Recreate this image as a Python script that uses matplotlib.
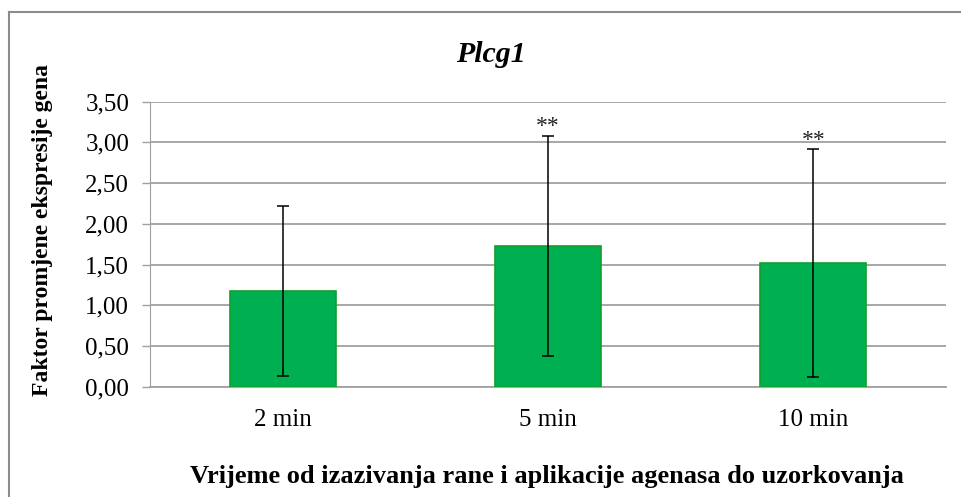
import numpy as np
import matplotlib.pyplot as plt
from matplotlib.lines import Line2D

# data
categories = ['2 min', '5 min', '10 min']
values = [1.175, 1.73, 1.515]
errors = [1.04, 1.35, 1.40]
marks = ['', '**', '**']
yticks = [0.0, 0.5, 1.0, 1.5, 2.0, 2.5, 3.0, 3.5]

plt.rcParams['font.family'] = ['Liberation Serif', 'DejaVu Serif']

fig = plt.figure(figsize=(9.62, 4.97), dpi=100)
ax = fig.add_axes([150 / 962, 1 - 386.7 / 497, 796 / 962, 285 / 497])

x = np.arange(len(categories))
ax.bar(x, values, width=0.4, color='#00AF4F', edgecolor='#12A030', linewidth=1.2, zorder=3)
ax.errorbar(x, values, yerr=errors, fmt='none', ecolor='black', elinewidth=1.1,
            capsize=4.2, capthick=1.1, zorder=4)
for xi, v, e, m in zip(x, values, errors, marks):
    if m:
        ax.annotate(m, (xi, v + e), xytext=(0, -1), textcoords='offset points',
                    ha='center', va='bottom', fontsize=17, color='#222222')

ax.set_xlim(-0.5, 2.5)
ax.set_ylim(0, 3.5)
ax.set_yticks(yticks)
ax.set_yticklabels([f'{t:.2f}'.replace('.', ',') for t in yticks], fontsize=18)
ax.set_xticks(x)
ax.set_xticklabels(categories, fontsize=18)
ax.tick_params(axis='x', length=0, pad=16)
ax.tick_params(axis='y', length=6, width=1, color='#A0A0A0', pad=9)
ax.yaxis.grid(True, color='#A0A0A0', linewidth=1.3, zorder=0)
ax.set_axisbelow(True)
for s in ['top', 'right']:
    ax.spines[s].set_visible(False)
ax.spines['left'].set_color('#A0A0A0')
ax.spines['bottom'].set_color('#A0A0A0')
ax.spines['bottom'].set_linewidth(1.3)

fig.text(491 / 962, 1 - 54 / 497, 'Plcg1', ha='center', va='center',
         fontsize=21.5, fontweight='bold', fontstyle='italic')
fig.text(547 / 962, 1 - 477 / 497,
         'Vrijeme od izazivanja rane i aplikacije agenasa do uzorkovanja',
         ha='center', va='center', fontsize=19, fontweight='bold')
fig.text(43 / 962, 1 - 230 / 497, 'Faktor promjene ekspresije gena',
         ha='center', va='center', rotation=90, fontsize=17, fontweight='bold')

# outer chart frame (only left and top edges fall inside the picture)
fig.add_artist(Line2D([8.5 / 962, 8.5 / 962], [0, 1 - 11.7 / 497],
                      transform=fig.transFigure, color='#8C8C8C', linewidth=1.5))
fig.add_artist(Line2D([8.5 / 962, 1], [1 - 11.7 / 497, 1 - 11.7 / 497],
                      transform=fig.transFigure, color='#8C8C8C', linewidth=1.5))

fig.savefig('out.png', dpi=100)
